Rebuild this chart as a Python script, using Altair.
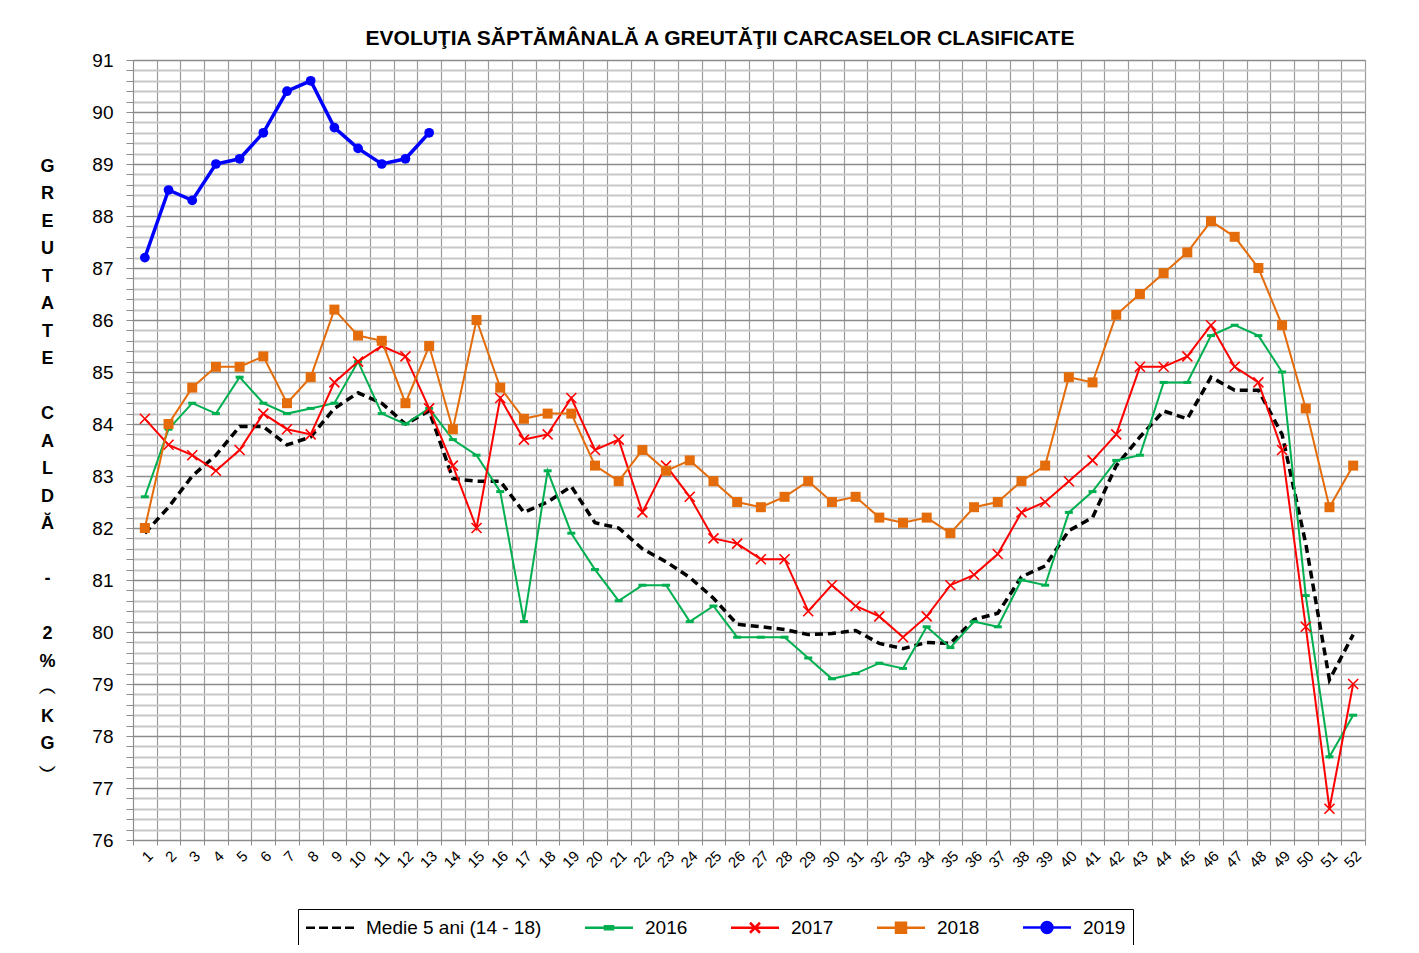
import altair as alt
import pandas as pd

weeks = list(range(1, 53))
series_names = ["Medie 5 ani (14 - 18)", "2016", "2017", "2018", "2019"]
series_colors = ["#000000", "#00B050", "#FF0000", "#E46C0A", "#0000FF"]

medie = [81.9, 82.4, 83.0, 83.4, 83.95, 83.95, 83.6, 83.75, 84.3, 84.6,
         84.4, 84.0, 84.25, 82.95, 82.9, 82.9, 82.3, 82.5, 82.8, 82.1,
         82.0, 81.6, 81.35, 81.05, 80.65, 80.15, 80.1, 80.05, 79.95, 79.97,
         80.03, 79.78, 79.68, 79.8, 79.78, 80.24, 80.36, 81.06, 81.27, 81.95,
         82.2, 83.2, 83.75, 84.25, 84.1, 84.9, 84.65, 84.65, 83.8, 81.7,
         79.08, 79.95]
y2016 = [82.6, 83.9, 84.4, 84.2, 84.9, 84.4, 84.2, 84.3, 84.4, 85.2,
         84.2, 84.0, 84.3, 83.7, 83.4, 82.7, 80.2, 83.1, 81.9, 81.2,
         80.6, 80.9, 80.9, 80.2, 80.5, 79.9, 79.9, 79.9, 79.5, 79.1,
         79.2, 79.4, 79.3, 80.1, 79.7, 80.2, 80.1, 81.0, 80.9, 82.3,
         82.7, 83.3, 83.4, 84.8, 84.8, 85.7, 85.9, 85.7, 85.0, 80.7,
         77.6, 78.4]
y2017 = [84.1, 83.6, 83.4, 83.1, 83.5, 84.2, 83.9, 83.8, 84.8, 85.2,
         85.5, 85.3, 84.3, 83.2, 82.0, 84.5, 83.7, 83.8, 84.5, 83.5,
         83.7, 82.3, 83.2, 82.6, 81.8, 81.7, 81.4, 81.4, 80.4, 80.9,
         80.5, 80.3, 79.9, 80.3, 80.9, 81.1, 81.5, 82.3, 82.5, 82.9,
         83.3, 83.8, 85.1, 85.1, 85.3, 85.9, 85.1, 84.8, 83.5, 80.1,
         76.6, 79.0]
y2018 = [82.0, 84.0, 84.7, 85.1, 85.1, 85.3, 84.4, 84.9, 86.2, 85.7,
         85.6, 84.4, 85.5, 83.9, 86.0, 84.7, 84.1, 84.2, 84.2, 83.2,
         82.9, 83.5, 83.1, 83.3, 82.9, 82.5, 82.4, 82.6, 82.9, 82.5,
         82.6, 82.2, 82.1, 82.2, 81.9, 82.4, 82.5, 82.9, 83.2, 84.9,
         84.8, 86.1, 86.5, 86.9, 87.3, 87.9, 87.6, 87.0, 85.9, 84.3,
         82.4, 83.2]
y2019 = [87.2, 88.5, 88.3, 89.0, 89.1, 89.6, 90.4, 90.6, 89.7, 89.3,
         89.0, 89.1, 89.6]

y_ticks = [round(76 + 0.2 * i, 1) for i in range(76)]
ZW = "\u200b"
y_title_lines = ["G", "R", "E", "U", "T", "A", "T", "E", ZW, "C", "A", "L", "D", "Ă",
                 ZW, "-", ZW, "2", "%", "︵", "K", "G", "︶"]
chart_title = "EVOLUŢIA SĂPTĂMÂNALĂ A GREUTĂŢII CARCASELOR CLASIFICATE"

rows = []
for name, vals in zip(series_names, [medie, y2016, y2017, y2018, y2019]):
    for w, v in zip(weeks, vals):
        rows.append({"week": w, "series": name, "value": v})
df = pd.DataFrame(rows)

FONT = "Liberation Sans, Arial, sans-serif"

x_enc = alt.X(
    "week:O",
    bandPosition=0.5,
    scale=alt.Scale(type="band", domain=weeks, paddingInner=0, paddingOuter=0),
    axis=alt.Axis(
        title=None, labelAngle=-45, labelFontSize=15, labelFont=FONT, labelColor="black",
        labelPadding=3, tickBand="extent", grid=True, gridColor="#9a9a9a", gridWidth=1.2,
        tickColor="#8c8c8c", tickSize=5, domainColor="#8c8c8c", labelOverlap=False,
    ),
)
y_enc = alt.Y(
    "value:Q",
    scale=alt.Scale(domain=[76, 91], nice=False, zero=False),
    axis=alt.Axis(
        values=y_ticks,
        format=".0f",
        labelExpr="datum.value % 1 === 0 ? datum.label : ''",
        labelOverlap=False,
        labelFontSize=19, labelFont=FONT, labelColor="black", labelPadding=13,
        gridColor={"condition": {"test": "datum.value % 1 === 0", "value": "#8c8c8c"},
                   "value": "#c8c8c8"},
        gridWidth={"condition": {"test": "datum.value % 1 === 0", "value": 1.3},
                   "value": 1.8},
        tickColor="#8c8c8c", tickSize=7, domainColor="#8c8c8c",
        title=y_title_lines, titleAngle=0, titleX=-86, titleY=97, titleAlign="center",
        titleBaseline="top", titleFontSize=18, titleFontWeight="bold", titleFont=FONT,
        titleLineHeight=27.5, titleColor="black",
    ),
)

base = alt.Chart(df)


def sel(name):
    return base.transform_filter(alt.datum.series == name)


layers = []
# Medie 5 ani
layers.append(sel(series_names[0]).mark_line(color="#000000", strokeWidth=3.5, strokeDash=[8, 5])
              .encode(x=x_enc, y=y_enc))
# 2016
layers.append(sel("2016").mark_line(color="#00B050", strokeWidth=2).encode(x=x_enc, y=y_enc))
layers.append(sel("2016").mark_point(shape="M-1,-0.375H1V0.375H-1Z", filled=True, size=64,
                                     color="#00B050", opacity=1).encode(x=x_enc, y=y_enc))
# 2017
layers.append(sel("2017").mark_line(color="#FF0000", strokeWidth=2).encode(x=x_enc, y=y_enc))
layers.append(sel("2017").mark_point(shape="M-1,-1L1,1M-1,1L1,-1", filled=False, size=100,
                                     strokeWidth=1.6, color="#FF0000", opacity=1)
              .encode(x=x_enc, y=y_enc))
# 2018
layers.append(sel("2018").mark_line(color="#E46C0A", strokeWidth=2).encode(x=x_enc, y=y_enc))
layers.append(sel("2018").mark_square(size=100, color="#E46C0A", opacity=1).encode(x=x_enc, y=y_enc))
# 2019
layers.append(sel("2019").mark_line(color="#0000FF", strokeWidth=3.5).encode(x=x_enc, y=y_enc))
layers.append(sel("2019").mark_circle(size=95, color="#0000FF", opacity=1).encode(x=x_enc, y=y_enc))

# legend (line + marker symbols)
legend_paths = [
    "M-1.05,0H-0.15M0.25,0H1.15M1.55,0H2.45M2.85,0H3.75",
    "M-1.05,0H3.75M0.95,-0.15H1.75V0.15H0.95Z",
    "M-1.05,0H3.75M0.85,-0.5L1.85,0.5M0.85,0.5L1.85,-0.5",
    "M-1.05,0H3.75M0.85,-0.5H1.85V0.5H0.85Z",
    "M-1.05,0H3.75M0.8,0A0.55,0.55 0 1,0 1.9,0A0.55,0.55 0 1,0 0.8,0Z",
]
leg = alt.Legend(
    title=None, orient="none", legendX=165, legendY=849, direction="horizontal",
    symbolSize=400, symbolStrokeWidth=2.5, labelFontSize=19, labelFont=FONT,
    labelColor="black", labelOffset=38, labelLimit=400, columnPadding=38, padding=7,
    strokeColor="black", fillColor="white",
)
legend_layer = base.transform_filter("datum.week < 0").mark_point(filled=True, size=400, opacity=1).encode(
    x=x_enc, y=y_enc,
    fill=alt.Fill("series:N", scale=alt.Scale(domain=series_names, range=series_colors), legend=leg),
    stroke=alt.Stroke("series:N", scale=alt.Scale(domain=series_names, range=series_colors), legend=leg),
    shape=alt.Shape("series:N", scale=alt.Scale(domain=series_names, range=legend_paths), legend=leg),
)
layers.append(legend_layer)

chart = alt.layer(*layers).properties(
    width=1232,
    height=780,
    title=alt.Title(chart_title, fontSize=21, font=FONT, fontWeight="bold", anchor="middle",
                    frame="group", offset=2, dx=-29, color="black"),
    padding={"left": 125, "top": 52, "right": 46, "bottom": 105},
    autosize=alt.AutoSizeParams(type="none"),
).configure_view(
    fill="#F2F2F2", stroke="black", strokeWidth=1.2
).configure(background="white")

chart.save("out.html", embed_options={"renderer": "svg", "actions": False})
